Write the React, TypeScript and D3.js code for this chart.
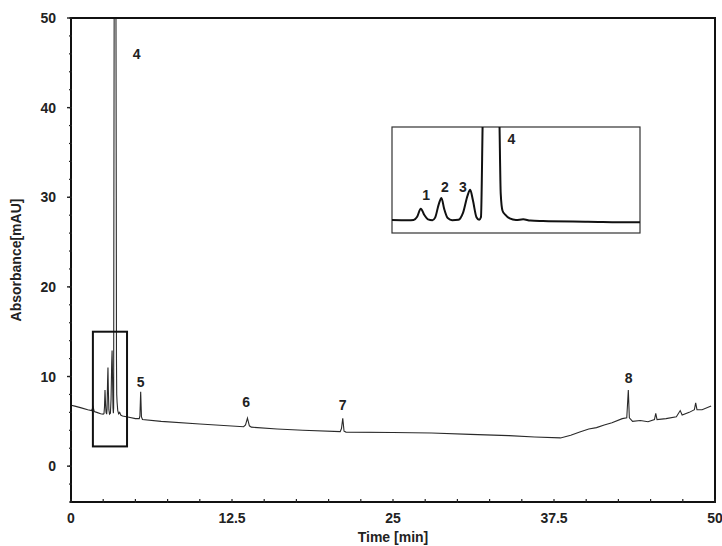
import React from "react";
import * as d3 from "d3";

// Chromatogram trace: retention time (min) and absorbance (mAU)
const time = [
  0, 0.3, 0.8, 1.3, 1.6, 1.72, 1.8, 2.0, 2.3, 2.5,
  2.56, 2.6, 2.64, 2.68, 2.72, 2.77,
  2.8, 2.84, 2.87, 2.9, 2.94, 2.99,
  3.06, 3.11, 3.16, 3.19, 3.22, 3.26, 3.29,
  3.31, 3.33, 3.36, 3.42, 3.48, 3.515, 3.53, 3.55, 3.58, 3.63, 3.7, 3.78, 3.86, 4.0, 4.5, 5.0, 5.3,
  5.35, 5.41, 5.47, 5.55,
  7, 10, 13.4,
  13.55, 13.7, 13.85, 14,
  16, 18, 20.9,
  21.0, 21.1, 21.2, 21.35,
  25, 28, 31, 34, 36, 38, 38.8, 39.5, 40.2, 40.8, 41.4, 42, 42.8,
  43.15, 43.27, 43.35, 43.6, 44.2, 44.8, 45.3, 45.4, 45.5, 46.2, 47, 47.3, 47.45, 48, 48.4, 48.5, 48.6, 49, 49.7,
];
const absorbance = [
  6.8, 6.7, 6.5, 6.3, 6.2, 6.6, 6.1, 6.0, 5.85, 5.8,
  5.85, 6.6, 8.5, 7.0, 6.0, 5.8,
  6.4, 9.5, 11.0, 8.5, 6.3, 5.8,
  5.9, 7.5, 11.5, 12.9, 10.5, 6.5, 5.9,
  6.5, 30, 60, 75, 60, 30, 12, 8, 7.1, 6.2, 5.85, 6.0, 5.7, 5.6, 5.45, 5.3, 5.3,
  5.6, 8.3, 5.5, 5.2,
  5.0, 4.7, 4.4,
  4.6, 5.35, 4.5, 4.35,
  4.15, 4.0, 3.85,
  4.2, 5.35, 3.9, 3.8,
  3.75, 3.7, 3.55, 3.4, 3.25, 3.15, 3.45, 3.8, 4.15, 4.3, 4.6, 4.85, 5.3,
  5.4, 8.5, 5.4, 5.0, 5.1, 4.95, 5.2, 5.9, 5.2, 5.3, 5.5, 6.2, 5.7, 6.0, 6.3, 7.05, 6.3, 6.3, 6.7,
];

// Numbered peak labels on the full chromatogram
const peakLabels = ["4", "5", "6", "7", "8"];
const peakLabelTime = [5.1, 5.41, 13.6, 21.1, 43.3];
const peakLabelValue = [46, 9.4, 7.2, 6.8, 9.8];

// Numbered peak labels inside the enlarged view
const insetLabels = ["1", "2", "3", "4"];
const insetLabelTime = [2.7, 2.91, 3.11, 3.65];
const insetLabelValue = [11.7, 13.6, 13.6, 24.8];

// Axis settings
const xDomain = [0, 50];
const yDomain = [-4, 50];
const xMajorTicks = [0, 12.5, 25, 37.5, 50];
const xTickLabels = ["0", "12.5", "25", "37.5", "50"];
const yMajorTicks = [0, 10, 20, 30, 40, 50];

// Region marked on the chromatogram and the ranges of the enlarged view
const markedTime = [1.7, 4.35];
const markedAbs = [2.2, 15];
const insetTimeDomain = [2.32, 5.08];
const insetAbsDomain = [2.8, 27.6];

const W = 722;
const H = 546;
const left = 71;
const right = 715;
const top = 18;
const bottom = 502;

const font = "'Liberation Sans', Arial, sans-serif";
const fs = 14;

export default function App() {
  const x = d3.scaleLinear().domain(xDomain).range([left, right]);
  const y = d3.scaleLinear().domain(yDomain).range([bottom, top]);

  const insetBox = { x0: 392, x1: 640, y0: 127, y1: 233 };
  const ix = d3.scaleLinear().domain(insetTimeDomain).range([insetBox.x0, insetBox.x1]);
  const iy = d3.scaleLinear().domain(insetAbsDomain).range([insetBox.y1, insetBox.y0]);

  const pts: [number, number][] = time.map((t, i) => [t, absorbance[i]]);

  const mainLine = d3
    .line<[number, number]>()
    .x((d) => x(d[0]))
    .y((d) => y(d[1]))
    .curve(d3.curveLinear);

  const insetLine = d3
    .line<[number, number]>()
    .x((d) => ix(d[0]))
    .y((d) => iy(d[1]))
    .curve(d3.curveMonotoneX);

  const xMinor = d3.range(0, 50.001, 2.5);
  const yMinor = d3.range(-4, 50.001, 2);

  return (
    <svg
      width={W}
      height={H}
      style={{ position: "absolute", left: 0, top: 0, background: "#fff" }}
      fontFamily={font}
    >
      <defs>
        <clipPath id="plotClip">
          <rect x={left} y={top} width={right - left} height={bottom - top} />
        </clipPath>
        <clipPath id="insetClip">
          <rect
            x={insetBox.x0}
            y={insetBox.y0}
            width={insetBox.x1 - insetBox.x0}
            height={insetBox.y1 - insetBox.y0}
          />
        </clipPath>
      </defs>

      {/* chromatogram */}
      <path
        d={mainLine(pts) || ""}
        fill="none"
        stroke="#2a2a2a"
        strokeWidth={1.1}
        clipPath="url(#plotClip)"
      />

      {/* marked region */}
      <rect
        x={x(markedTime[0])}
        y={y(markedAbs[1])}
        width={x(markedTime[1]) - x(markedTime[0])}
        height={y(markedAbs[0]) - y(markedAbs[1])}
        fill="none"
        stroke="#111"
        strokeWidth={2}
      />

      {/* enlarged view */}
      <rect
        x={insetBox.x0}
        y={insetBox.y0}
        width={insetBox.x1 - insetBox.x0}
        height={insetBox.y1 - insetBox.y0}
        fill="#fff"
        stroke="#333"
        strokeWidth={1.2}
      />
      <path
        d={insetLine(pts.filter((d) => d[0] >= 2.2 && d[0] <= 5.3)) || ""}
        fill="none"
        stroke="#111"
        strokeWidth={2}
        clipPath="url(#insetClip)"
      />
      {insetLabels.map((s, i) => (
        <text
          key={"il" + i}
          x={ix(insetLabelTime[i])}
          y={iy(insetLabelValue[i])}
          textAnchor="middle"
          dominantBaseline="central"
          fontSize={fs}
          fontWeight="bold"
          fill="#222"
        >
          {s}
        </text>
      ))}

      {/* peak labels */}
      {peakLabels.map((s, i) => (
        <text
          key={"pl" + i}
          x={x(peakLabelTime[i])}
          y={y(peakLabelValue[i])}
          textAnchor="middle"
          dominantBaseline="central"
          fontSize={fs}
          fontWeight="bold"
          fill="#222"
        >
          {s}
        </text>
      ))}

      {/* frame */}
      <rect
        x={left}
        y={top}
        width={right - left}
        height={bottom - top}
        fill="none"
        stroke="#111"
        strokeWidth={2}
      />

      {/* x ticks */}
      {xMinor.map((v, i) => (
        <line key={"xm" + i} x1={x(v)} x2={x(v)} y1={bottom - 3} y2={bottom + 1} stroke="#222" strokeWidth={1.2} />
      ))}
      {xMajorTicks.map((v, i) => (
        <text
          key={"xt" + i}
          x={x(v)}
          y={518}
          textAnchor="middle"
          dominantBaseline="central"
          fontSize={fs}
          fontWeight="bold"
          fill="#222"
        >
          {xTickLabels[i]}
        </text>
      ))}

      {/* y ticks */}
      {yMinor.map((v, i) => (
        <line key={"ym" + i} x1={left - 2} x2={left + 1} y1={y(v)} y2={y(v)} stroke="#222" strokeWidth={1.2} />
      ))}
      {yMajorTicks.map((v, i) => (
        <g key={"yt" + i}>
          <line x1={left - 4} x2={left} y1={y(v)} y2={y(v)} stroke="#222" strokeWidth={1.4} />
          <text
            x={56}
            y={y(v)}
            textAnchor="end"
            dominantBaseline="central"
            fontSize={fs}
            fontWeight="bold"
            fill="#222"
          >
            {v}
          </text>
        </g>
      ))}

      {/* axis titles */}
      <text
        x={(left + right) / 2}
        y={537}
        textAnchor="middle"
        dominantBaseline="central"
        fontSize={fs}
        fontWeight="bold"
        fill="#222"
      >
        Time [min]
      </text>
      <text
        transform={`translate(16, ${(top + bottom) / 2}) rotate(-90)`}
        textAnchor="middle"
        dominantBaseline="central"
        fontSize={fs}
        fontWeight="bold"
        fill="#222"
      >
        Absorbance[mAU]
      </text>
    </svg>
  );
}
